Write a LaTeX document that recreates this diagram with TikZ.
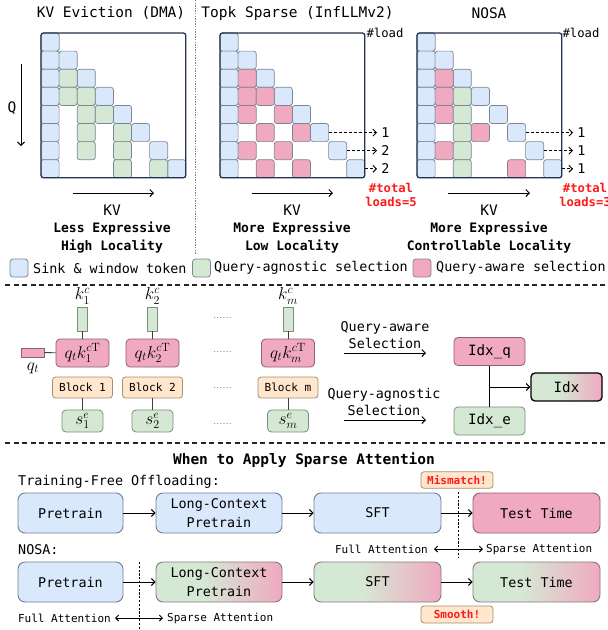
\documentclass[tikz,border=0pt]{standalone}
\usepackage[no-math]{fontspec}
\setmainfont{DejaVu Sans Mono}
\usetikzlibrary{arrows.meta}
\definecolor{cblue}{HTML}{DAE8FC}
\definecolor{cgreen}{HTML}{D5E8D4}
\definecolor{cpink}{HTML}{F0A9C0}
\definecolor{corange}{HTML}{FFE6CC}
\definecolor{cellb}{HTML}{7D8592}
\definecolor{navy}{HTML}{24314F}
\definecolor{bblue}{HTML}{6E7E96}
\definecolor{bgreen}{HTML}{7A8F78}
\definecolor{bpink}{HTML}{8E6172}
\definecolor{borange}{HTML}{A58E74}
\definecolor{bgrad}{HTML}{857A7E}
\definecolor{cred}{HTML}{FF1A1A}
\newcommand{\fz}[2]{\fontsize{#1}{#2}\selectfont}
\pgfdeclarehorizontalshading{gpshade}{100bp}{color(0bp)=(cgreen); color(25bp)=(cgreen); color(44bp)=(cgreen); color(75bp)=(cpink); color(100bp)=(cpink)}
\newcommand{\mcell}[4]{\draw[mcellst, fill=#4] ({#1+#3*18.1},{33+#2*18.1}) rectangle ++(18.1,18.1);}
\begin{document}
\begin{tikzpicture}[x=1pt,y=-1pt,
  mcellst/.style={draw=cellb, line width=0.7pt, rounded corners=2.5pt},
  mframe/.style={draw=navy, line width=1.3pt, rounded corners=2.5pt},
  ttl/.style={font=\fz{14.5}{17}, inner sep=0pt},
  lbl/.style={font=\fz{13.4}{18}, inner sep=0pt, align=center},
  capt/.style={font=\bfseries\fz{13}{18}, inner sep=0pt, align=center},
  smalltxt/.style={font=\fz{12.2}{14}, inner sep=0pt},
  mathtxt/.style={font=\fz{17.28}{19}, inner sep=0pt},
  redtxt/.style={font=\bfseries\fz{12.2}{14.5}, text=cred, inner sep=0pt, align=center},
  arr/.style={-{Straight Barb[length=3.5pt,width=7pt]}, line width=1pt},
  darr/.style={{Straight Barb[length=3pt,width=6pt]}-{Straight Barb[length=3pt,width=6pt]}, line width=0.9pt},
  dashar/.style={-{Straight Barb[length=3.5pt,width=7pt]}, line width=0.9pt, dash pattern=on 3pt off 2pt},
  legsq/.style={draw=cellb, line width=0.8pt, rounded corners=3pt, minimum width=18pt, minimum height=18pt, inner sep=0pt},
  hsep/.style={line width=1.1pt, dash pattern=on 5pt off 3.5pt, draw=black!85},
  conn/.style={line width=0.9pt, draw=black!75},
  kvec/.style={draw=bgreen, fill=cgreen, line width=0.8pt, minimum width=10pt, minimum height=24pt, inner sep=0pt},
  qvec/.style={draw=bpink, fill=cpink, line width=0.8pt, minimum width=23pt, minimum height=9pt, inner sep=0pt},
  qkbox/.style={draw=bpink, fill=cpink, line width=0.8pt, rounded corners=4pt, minimum width=53pt, minimum height=28pt, inner sep=0pt, font=\fz{17.28}{19}},
  blkbox/.style={draw=borange, fill=corange, line width=0.8pt, rounded corners=3pt, minimum width=60pt, minimum height=21pt, inner sep=0pt, font=\fz{11.1}{13}},
  sbox/.style={draw=bgreen, fill=cgreen, line width=0.8pt, rounded corners=4pt, minimum width=41pt, minimum height=22pt, inner sep=0pt, font=\fz{17.28}{19}},
  idxbox/.style={line width=0.8pt, rounded corners=4pt, minimum width=71pt, minimum height=28pt, inner sep=0pt, font=\fz{14.2}{16}},
  bigbox/.style={line width=0.9pt, rounded corners=7pt, minimum height=40pt, inner sep=0pt, align=center, font=\fz{13.4}{18.5}},
  bluebox/.style={bigbox, draw=bblue, fill=cblue},
  pinkbox/.style={bigbox, draw=bpink, fill=cpink},
  gradbox/.style={bigbox, draw=bgrad, shade, shading=gpshade},
  tagbox/.style={draw=borange, fill=corange, line width=0.8pt, rounded corners=3pt, minimum width=72pt, minimum height=16.5pt, inner sep=0pt, font=\bfseries\fz{11}{13}, text=cred},
  vdash/.style={line width=0.7pt, dash pattern=on 2.2pt off 1.6pt},
  attn/.style={font=\fz{11}{13}, inner sep=0pt}
]
\useasboundingbox (0,0) rectangle (608,630);

% ---------------- top: three attention patterns ----------------
\node[ttl] (t1) at (111,13) {KV Eviction (DMA)};
\node[ttl] (t2) at (297.5,13) {Topk Sparse (InfLLMv2)};
\node[ttl] (t3) at (489,13) {NOSA};
\draw[draw=black!50, line width=0.9pt, dash pattern=on 1.3pt off 1.3pt] (195,0) -- (195,254);

% blue sink & window cells
\foreach \ox in {41,220,417}{
  \foreach \r in {0,...,7}{\mcell{\ox}{\r}{0}{cblue}\mcell{\ox}{\r}{\r}{cblue}}
}
% DMA: query-agnostic cells
\foreach \r/\c in {2/1,3/1,3/2,4/2,4/3,5/2,5/4,6/2,6/4,7/4,7/6}{\mcell{41}{\r}{\c}{cgreen}}
% InfLLMv2: query-aware cells
\foreach \r/\c in {2/1,3/1,3/2,4/1,4/3,5/2,5/4,6/1,6/3,7/2,7/4}{\mcell{220}{\r}{\c}{cpink}}
% NOSA
\foreach \r/\c in {2/1,3/1,4/1,5/3,6/1,7/5}{\mcell{417}{\r}{\c}{cpink}}
\foreach \r in {3,...,7}{\mcell{417}{\r}{2}{cgreen}}
% frames
\draw[mframe] (41,33) rectangle ++(144.8,144.8);
\draw[mframe] (220,33) rectangle ++(144.8,144.8);
\draw[mframe] (417,33) rectangle ++(144.8,144.8);

% Q arrow
\node[lbl, font=\fz{14.5}{17}] (Q) at (12,108) {Q};
\coordinate (qa0) at (21,64); \coordinate (qa1) at (21,146);
\draw[arr] (qa0) -- (qa1);

% KV arrows and labels
\coordinate (kva0) at (73,193);  \coordinate (kva1) at (154,193);
\coordinate (kvb0) at (252,193); \coordinate (kvb1) at (333,193);
\coordinate (kvc0) at (448,193); \coordinate (kvc1) at (530,193);
\draw[arr] (kva0) -- (kva1);
\draw[arr] (kvb0) -- (kvb1);
\draw[arr] (kvc0) -- (kvc1);
\node[ttl] (kv1) at (112,210) {KV};
\node[ttl] (kv2) at (292,210) {KV};
\node[ttl] (kv3) at (489,210) {KV};

% captions
\node[capt] (c1) at (112,238) {Less Expressive\\High Locality};
\node[capt] (c2) at (292,238) {More Expressive\\Low Locality};
\node[capt] (c3) at (489,238) {More Expressive\\Controllable Locality};

% loads
\node[smalltxt] (ld2) at (385,33) {\#load};
\node[smalltxt] (ld3) at (581,33) {\#load};
\foreach \r/\n [count=\i] in {5/1,6/2,7/2}{
  \coordinate (ms\i) at ({220+(\r+1)*18.1},{33+(\r+0.5)*18.1});
  \coordinate (me\i) at (377,{33+(\r+0.5)*18.1});
  \draw[dashar] (ms\i) -- (me\i);
  \node[lbl, font=\fz{13.4}{16}] (mn\i) at (385.5,{33+(\r+0.5)*18.1}) {\n};
}
\foreach \r/\n [count=\i] in {5/1,6/1,7/1}{
  \coordinate (ns\i) at ({417+(\r+1)*18.1},{33+(\r+0.5)*18.1});
  \coordinate (ne\i) at (573,{33+(\r+0.5)*18.1});
  \draw[dashar] (ns\i) -- (ne\i);
  \node[lbl, font=\fz{13.4}{16}] (nn\i) at (581.5,{33+(\r+0.5)*18.1}) {\n};
}
\node[redtxt] (tot2) at (391,195) {\#total\\loads=5};
\node[redtxt] (tot3) at (585,195) {\#total\\loads=3};

% legend
\node[legsq, fill=cblue] (lg1) at (19,268) {};
\node[lbl, anchor=west] (lt1) at (33,268) {Sink \& window token};
\node[legsq, fill=cgreen] (lg2) at (201.5,268) {};
\node[lbl, anchor=west] (lt2) at (214,268) {Query-agnostic selection};
\node[legsq, fill=cpink] (lg3) at (422,268) {};
\node[lbl, anchor=west] (lt3) at (436,268) {Query-aware selection};

\draw[hsep] (5,285) -- (606,285);

% ---------------- middle: selection ----------------
\foreach \cx/\i in {82.5/1,152.5/2,288/m}{
  \node[mathtxt] (kl\i) at (\cx,296) {$k_{\i}^{c}$};
  \node[kvec] (k\i) at (\cx,319) {};
  \node[qkbox] (qk\i) at (\cx,353) {$q_t k_{\i}^{c\mathrm{T}}$};
  \node[blkbox] (b\i) at (\cx,387.5) {Block \i};
  \node[sbox] (s\i) at (\cx,421) {$s_{\i}^{e}$};
  \draw[conn] (k\i) -- (qk\i);
  \draw[conn] (b\i) -- (s\i);
}
\foreach \y [count=\i] in {318,352,388,424}{
  \node[font=\fz{5}{6}, inner sep=0pt] (dots\i) at (222.5,\y) {......};
}
\node[qvec] (qt) at (32.5,352.5) {};
\node[mathtxt] (qtl) at (33,368) {$q_t$};
\draw[conn] (qt) -- (qk1);

\node[lbl, font=\fz{13.4}{17}] (qas) at (385,335) {Query-aware\\Selection};
\coordinate (qaa0) at (344,353); \coordinate (qaa1) at (426,353);
\draw[arr] (qaa0) -- (qaa1);
\node[lbl, font=\fz{13.4}{17}] (qgs) at (384,401.5) {Query-agnostic\\Selection};
\coordinate (qga0) at (344,420); \coordinate (qga1) at (426,420);
\draw[arr] (qga0) -- (qga1);

\node[idxbox, draw=bpink, fill=cpink] (idxq) at (489.5,351.5) {Idx\_q};
\node[idxbox, draw=bgreen, fill=cgreen] (idxe) at (489.5,421) {Idx\_e};
\node[idxbox, draw=black, line width=1.3pt, shade, shading=gpshade] (idx) at (566.5,387) {Idx};
\draw[line width=1pt] (idxq) -- (idxe);
\coordinate (jn) at (489.5,387);
\draw[arr] (jn) -- (idx);

\draw[hsep] (5,443) -- (606,443);

% ---------------- bottom: when to apply ----------------
\node[font=\bfseries\fz{14.5}{17}, inner sep=0pt] (wt) at (304,460) {When to Apply Sparse Attention};
\node[lbl, anchor=west] (tfo) at (18,482) {Training-Free Offloading:};
\node[bluebox, minimum width=105pt] (p1) at (70.5,513) {Pretrain};
\node[bluebox, minimum width=126pt] (l1) at (219,513) {Long-Context\\Pretrain};
\node[bluebox, minimum width=127pt] (f1) at (377.5,513) {SFT};
\node[pinkbox, minimum width=127pt] (x1) at (536.5,513) {Test Time};
\draw[arr] (p1) -- (l1);
\draw[arr] (l1) -- (f1);
\draw[arr] (f1) -- (x1);
\node[tagbox] (mm) at (457,480) {Mismatch!};
\coordinate (v1a) at (458,492); \coordinate (v1b) at (458,558);
\draw[vdash] (v1a) -- (v1b);
\node[attn, anchor=east] (fa1) at (428,549) {Full Attention};
\node[attn, anchor=west] (sa1) at (486,549) {Sparse Attention};
\draw[darr, shorten <=6pt, shorten >=3pt] (fa1) -- (sa1);

\node[lbl, anchor=west] (nl) at (18,550) {NOSA:};
\node[bluebox, minimum width=105pt] (p2) at (70.5,582) {Pretrain};
\node[gradbox, minimum width=126pt] (l2) at (219,582) {Long-Context\\Pretrain};
\node[gradbox, minimum width=127pt] (f2) at (377.5,582) {SFT};
\node[gradbox, minimum width=127pt] (x2) at (536.5,582) {Test Time};
\draw[arr] (p2) -- (l2);
\draw[arr] (l2) -- (f2);
\draw[arr] (f2) -- (x2);
\node[tagbox, minimum height=17pt] (sm) at (457,614.5) {Smooth!};
\coordinate (v2a) at (139,562); \coordinate (v2b) at (139,631);
\draw[vdash] (v2a) -- (v2b);
\node[attn, anchor=east] (fa2) at (111,618) {Full Attention};
\node[attn, anchor=west] (sa2) at (167,618) {Sparse Attention};
\draw[darr, shorten <=4pt, shorten >=4pt] (fa2) -- (sa2);
\end{tikzpicture}
\end{document}
